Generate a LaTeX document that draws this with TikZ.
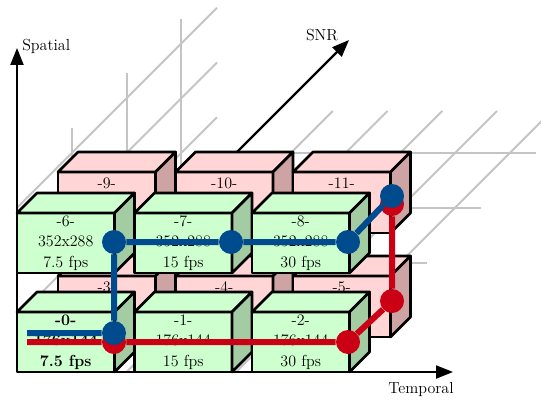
\documentclass[tikz,border=0pt]{standalone}
\usepackage{tikz}
\usepackage{xcolor}
\usetikzlibrary{arrows.meta}
\definecolor{greenfront}{RGB}{206,255,206}
\definecolor{greenside}{RGB}{163,204,163}
\definecolor{pinkfront}{RGB}{255,213,213}
\definecolor{pinkside}{RGB}{205,163,163}
\definecolor{pathblue}{RGB}{0,75,141}
\definecolor{pathred}{RGB}{204,0,20}
\definecolor{gridgray}{RGB}{196,196,196}
\newcommand{\cubefont}{\fontsize{12}{15.4}\selectfont}
\tikzset{
    green-face/.style = {draw, fill=greenfront, line width=2pt, line join=round, rectangle, minimum width=73.125pt, minimum height=45pt, inner sep=0pt, outer sep=0pt, align=center, font=\cubefont},
    pink-face/.style = {green-face, fill=pinkfront, minimum height=45.75pt},
    green-top/.style = {draw, fill=greenfront, line width=2pt, line join=round},
    green-side/.style = {green-top, fill=greenside},
    pink-top/.style = {green-top, fill=pinkfront},
    pink-side/.style = {green-top, fill=pinkside},
    cube-text/.style = {inner sep=0pt, font=\cubefont},
    grid-line/.style = {draw=gridgray, line width=1.5pt},
    axis-arrow/.style = {draw=black, line width=1.6pt, -{Triangle[length=12.75pt,width=9.75pt]}},
    axis-label/.style = {inner sep=0pt, font=\cubefont},
    blue-path/.style = {draw=pathblue, line width=4.5pt},
    red-path/.style = {draw=pathred, line width=4.5pt},
    blue-dot/.style = {circle, fill=pathblue, minimum size=18pt, inner sep=0pt},
    red-dot/.style = {circle, fill=pathred, minimum size=18pt, inner sep=0pt},
}
\begin{document}
\begin{tikzpicture}[x=0.75pt, y=-0.75pt]
\useasboundingbox (0,0) rectangle (541,399);

\foreach \k in {1,...,5} \draw[grid-line] (17+54.75*\k,372) -- ++(261,-261);
\foreach \k in {1,...,4} \draw[grid-line] (17+54.75*\k,372-54.75*\k) -- ++(300,0);
\foreach \k in {1,2,3} \draw[grid-line] (17+54.75*\k,372-54.75*\k) -- ++(0,-189);
\foreach \k in {1,2,3} \draw[grid-line] (17,372-54.75*\k) -- ++(200,-200);

\coordinate (origin) at (17,372);
\coordinate (snr-end) at (349,40);
\coordinate (spatial-end) at (17,48);
\coordinate (temporal-end) at (453,372);
\draw[axis-arrow] (origin) -- (snr-end);

\foreach \nm/\x/\y/\lbl in {c9/58/172/-9-, c10/175.5/172/-10-, c11/293/172/-11-, c3/58/276/-3-, c4/175.5/276/-4-, c5/293/276/-5-}{
    \node[pink-face, anchor=north west] (\nm) at (\x,\y) {};
    \draw[pink-top] (\nm.north west) -- ++(20,-20) -- ++(97.5,0) -- (\nm.north east) -- cycle;
    \draw[pink-side] (\nm.north east) -- ++(20,-20) -- ++(0,61) -- (\nm.south east) -- cycle;
    \node[cube-text] (\nm-t) at ([yshift=-8.25pt]\nm.north) {\lbl};
}

\foreach \nm/\x/\y/\txt in {c6/17/213/{-6-\\352x288\\7.5 fps}, c7/134.5/213/{-7-\\352x288\\15 fps}, c8/252/213/{-8-\\352x288\\30 fps}, c0/17/312/{\textbf{-0-}\\\textbf{176x144}\\\textbf{7.5 fps}}, c1/134.5/312/{-1-\\176x144\\15 fps}, c2/252/312/{-2-\\176x144\\30 fps}}{
    \node[green-face, anchor=north west] (\nm) at (\x,\y) {\txt};
    \draw[green-top] (\nm.north west) -- ++(20,-20) -- ++(97.5,0) -- (\nm.north east) -- cycle;
    \draw[green-side] (\nm.north east) -- ++(20,-20) -- ++(0,60) -- (\nm.south east) -- cycle;
}

\draw[axis-arrow] (origin) -- (spatial-end);
\draw[axis-arrow] (origin) -- (temporal-end);
\node[axis-label, anchor=west] (spatial-label) at (22,46) {Spatial};
\node[axis-label] (snr-label) at (322,35) {SNR};
\node[axis-label] (temporal-label) at (421,389) {Temporal};

\coordinate (r0) at (27,342);
\node[red-dot] (r1) at (114,342) {};
\node[red-dot] (r2) at (348,342) {};
\node[red-dot] (r3) at (392,301) {};
\node[red-dot] (r4) at (392,204) {};
\draw[red-path] (r0) -- (r1) -- (r2) -- (r3) -- (r4);

\coordinate (b0) at (27,333);
\node[blue-dot] (b1) at (114,333) {};
\node[blue-dot] (b2) at (114,242) {};
\node[blue-dot] (b3) at (231,242) {};
\node[blue-dot] (b4) at (348,242) {};
\node[blue-dot] (b5) at (392,196) {};
\draw[blue-path] (b0) -- (b1) -- (b2) -- (b3) -- (b4) -- (b5);
\end{tikzpicture}
\end{document}
